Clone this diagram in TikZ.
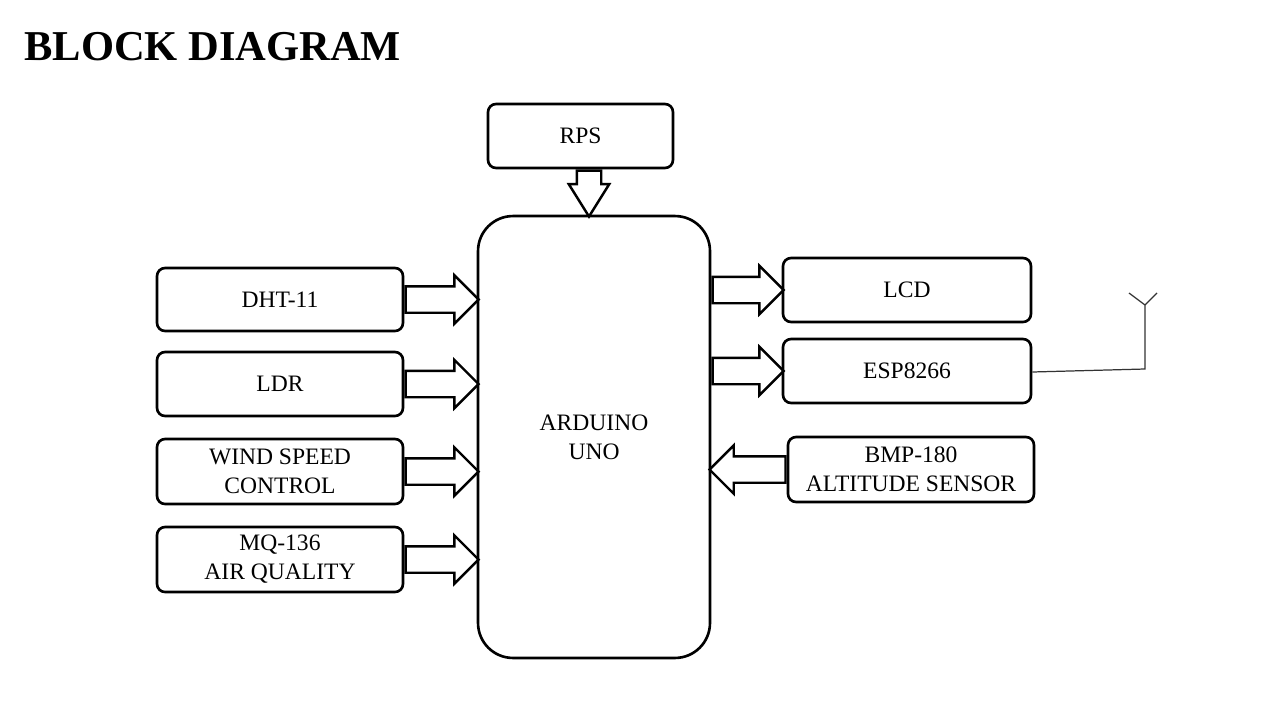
\documentclass[tikz,border=0pt]{standalone}
\usepackage{fontspec}
\setmainfont{Liberation Serif}
\usepackage{tikz}
\usetikzlibrary{shapes.arrows}
\usetikzlibrary{positioning}

\begin{document}
\begin{tikzpicture}[x=0.02cm, y=-0.02cm,
  box/.style={draw, line width=1.5pt, rounded corners=0.16cm, minimum width=4.92cm,
    minimum height=1.28cm, align=center, font=\fontsize{13.4}{16.5}\selectfont},
  barrow/.style={draw, line width=1.4pt, single arrow, single arrow head extend=0.22cm,
    inner sep=0.24cm, anchor=tail, single arrow tip angle=90}]

\useasboundingbox (0,0) rectangle (1280,720);

% Titulo
\node[anchor=base west, inner sep=0pt, font=\fontsize{24.2}{28}\selectfont\bfseries] (title) at (24,60) {BLOCK DIAGRAM};

% Bloques
\node[box, minimum width=3.7cm] (rps) at (580.5,136) {RPS};
\node[box, minimum width=4.64cm, minimum height=8.84cm, rounded corners=0.7cm] (ard) at (594,437) {ARDUINO\\UNO};

\node[box, minimum height=1.26cm] (dht) at (280,299.5) {DHT-11};
\node[box] (ldr) at (280,384) {LDR};
\node[box, minimum height=1.3cm] (wind) at (280,471.5) {WIND SPEED\\CONTROL};
\node[box, minimum height=1.3cm] (mq) at (280,559.5) {MQ-136\\AIR QUALITY};

\node[box, minimum width=4.96cm] (lcd) at (907,290) {LCD};
\node[box, minimum width=4.96cm] (esp) at (907,371) {ESP8266};
\node[box, minimum height=1.3cm] (bmp) at (911,469.5) {BMP-180\\ALTITUDE SENSOR};

% Flechas
\node[barrow, shape border rotate=270, minimum height=0.92cm, inner sep=0.22cm,
  single arrow head extend=0.16cm, single arrow tip angle=64] (arps) at ([xshift=0.17cm]rps.south) {};
\node[barrow, minimum height=1.46cm] (adht) at (dht.east) {};
\node[barrow, minimum height=1.46cm] (aldr) at (ldr.east) {};
\node[barrow, minimum height=1.46cm] (awind) at (wind.east) {};
\node[barrow, minimum height=1.46cm] (amq) at (mq.east) {};
\node[barrow, minimum height=1.42cm] (alcd) at (ard.east |- lcd.west) {};
\node[barrow, minimum height=1.42cm] (aesp) at (ard.east |- esp.west) {};
\node[barrow, shape border rotate=180, minimum height=1.52cm] (abmp) at (bmp.west) {};

% Antena
\coordinate (base) at (1145,369);
\coordinate (mast) at (1145,305);
\coordinate (tipl) at (1129,293);
\coordinate (tipr) at (1157,293);
\draw[black!80, line width=0.7pt] ([yshift=-0.02cm]esp.east) -- (base) -- (mast) -- (tipl);
\draw[black!80, line width=0.7pt] (mast) -- (tipr);

\end{tikzpicture}
\end{document}
